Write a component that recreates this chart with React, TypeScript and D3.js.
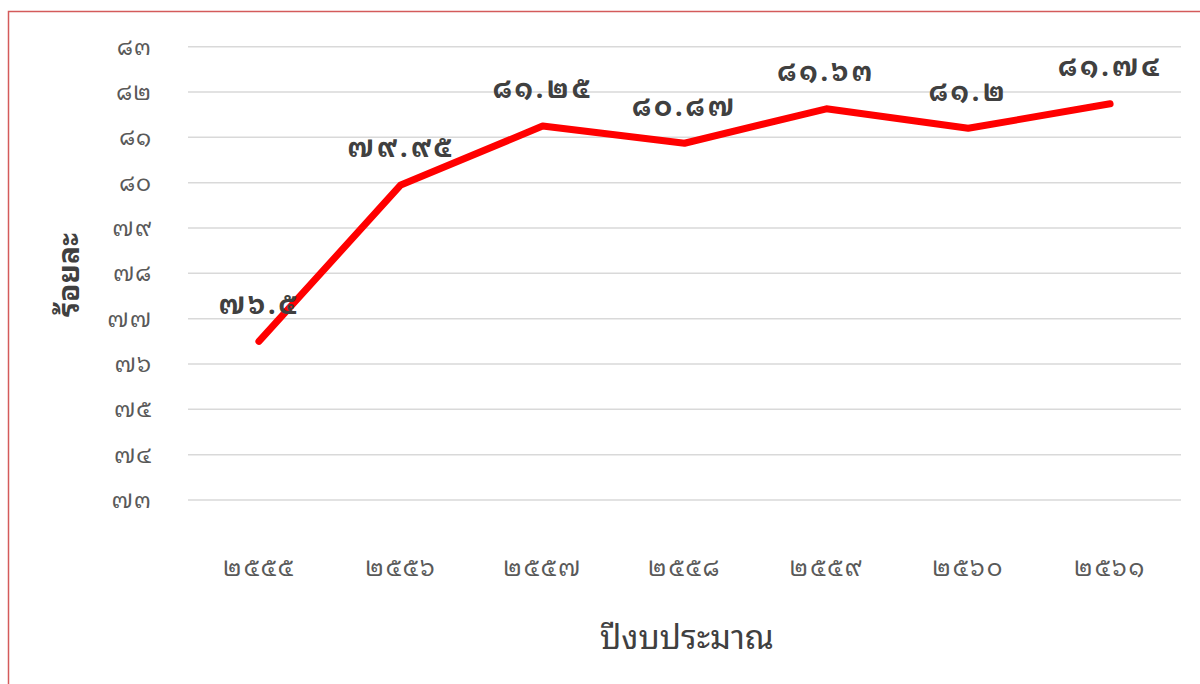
import React, { useEffect, useRef } from 'react';
import * as d3 from 'd3';

const years = ['๒๕๕๕', '๒๕๕๖', '๒๕๕๗', '๒๕๕๘', '๒๕๕๙', '๒๕๖๐', '๒๕๖๑'];
const values = [76.5, 79.95, 81.25, 80.87, 81.63, 81.2, 81.74];
const valueLabels = ['๗๖.๕', '๗๙.๙๕', '๘๑.๒๕', '๘๐.๘๗', '๘๑.๖๓', '๘๑.๒', '๘๑.๗๔'];
const yTicks = [73, 74, 75, 76, 77, 78, 79, 80, 81, 82, 83];
const thaiDigits = ['๐', '๑', '๒', '๓', '๔', '๕', '๖', '๗', '๘', '๙'];

const toThai = (n: number) => String(n).replace(/[0-9]/g, d => thaiDigits[+d]);

const FONT = '"Noto Sans Thai Looped", "Noto Sans Thai", sans-serif';

const LineChart = ({ width = 1200, height = 684 }) => {
  const ref = useRef<SVGSVGElement | null>(null);

  useEffect(() => {
    if (!ref.current) return;
    const svg = d3.select(ref.current);
    svg.selectAll('*').remove();

    const left = 188, right = 1181, top = 46.7, bottom = 500;

    svg.append('rect')
      .attr('x', 8.5).attr('y', 11.5)
      .attr('width', width + 20).attr('height', height + 20)
      .attr('fill', 'white')
      .attr('stroke', '#d45b5b')
      .attr('stroke-width', 1.5);

    const x = d3.scaleBand<string>().domain(years).range([left, right]);
    const y = d3.scaleLinear().domain([73, 83]).range([bottom, top]);

    // gridlines
    svg.append('g')
      .selectAll('line')
      .data(yTicks)
      .enter().append('line')
      .attr('x1', left).attr('x2', right)
      .attr('y1', d => y(d)).attr('y2', d => y(d))
      .attr('stroke', '#d9d9d9')
      .attr('stroke-width', 1.5);

    // y tick labels
    svg.append('g')
      .selectAll('text')
      .data(yTicks)
      .enter().append('text')
      .attr('x', 152)
      .attr('y', d => y(d))
      .attr('dy', '0.35em')
      .attr('text-anchor', 'end')
      .style('font-family', FONT)
      .style('font-size', '23px')
      .style('letter-spacing', '1px')
      .style('fill', '#595959')
      .text(d => toThai(d));

    // x tick labels
    svg.append('g')
      .selectAll('text')
      .data(years)
      .enter().append('text')
      .attr('x', d => (x(d) ?? 0) + x.bandwidth() / 2)
      .attr('y', 568)
      .attr('dy', '0.35em')
      .attr('text-anchor', 'middle')
      .style('font-family', FONT)
      .style('font-size', '24px')
      .style('letter-spacing', '2px')
      .style('fill', '#595959')
      .text(d => d);

    const line = d3.line<number>()
      .x((_, i) => (x(years[i]) ?? 0) + x.bandwidth() / 2)
      .y(d => y(d));

    svg.append('path')
      .datum(values)
      .attr('d', line)
      .attr('fill', 'none')
      .attr('stroke', '#ff0000')
      .attr('stroke-width', 7)
      .attr('stroke-linecap', 'round')
      .attr('stroke-linejoin', 'round');

    // data labels
    svg.append('g')
      .selectAll('text')
      .data(values)
      .enter().append('text')
      .attr('x', (_, i) => (x(years[i]) ?? 0) + x.bandwidth() / 2)
      .attr('y', d => y(d) - 37)
      .attr('dy', '0.35em')
      .attr('text-anchor', 'middle')
      .style('font-family', FONT)
      .style('font-size', '27px')
      .style('letter-spacing', '3px')
      .style('font-weight', 'bold')
      .style('fill', '#404040')
      .text((_, i) => valueLabels[i]);

    // axis titles
    svg.append('text')
      .attr('transform', 'translate(68, 275) rotate(-90)')
      .attr('text-anchor', 'middle')
      .attr('dy', '0.35em')
      .style('font-family', FONT)
      .style('font-size', '30px')
      .style('font-weight', 'bold')
      .style('fill', '#404040')
      .text('ร้อยละ');

    svg.append('text')
      .attr('x', 687)
      .attr('y', 637)
      .attr('text-anchor', 'middle')
      .attr('dy', '0.35em')
      .style('font-family', FONT)
      .style('font-size', '33px')
      .style('fill', '#404040')
      .text('ปีงบประมาณ');
  }, [width, height]);

  return (
    <svg
      ref={ref}
      width={width}
      height={height}
      style={{ position: 'absolute', left: 0, top: 0, display: 'block' }}
    ></svg>
  );
};

export default function App() {
  return <LineChart />;
}
